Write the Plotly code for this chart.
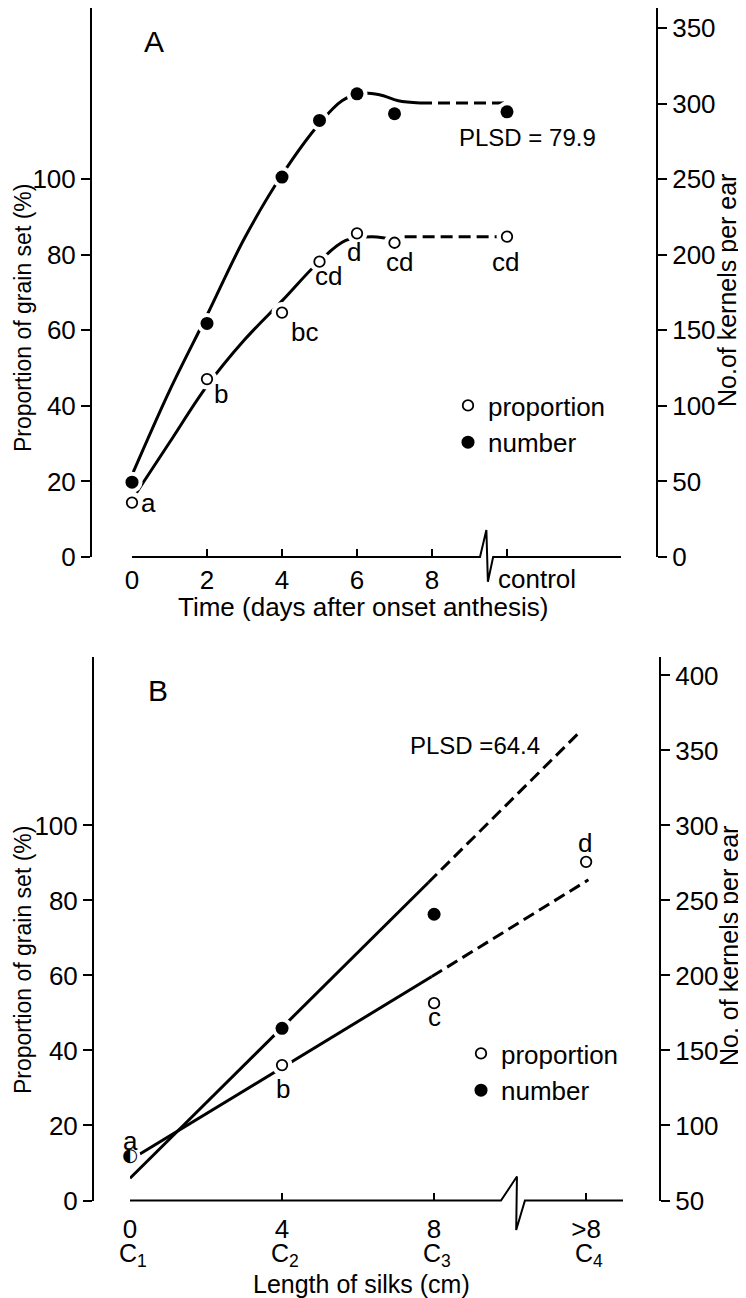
import plotly.graph_objects as go

# panel A : time after onset of anthesis (control plotted at 10)
days_a = [0, 2, 4, 5, 6, 7, 10]
prop_a = [14.4, 47.1, 64.7, 78.2, 85.7, 83.2, 84.8]
num_a = [49.5, 154.6, 251.5, 289.0, 306.6, 293.4, 294.7]
letters_a = ["a", "b", "bc", "cd", "d", "cd", "cd"]
xticks_a = [0, 2, 4, 6, 8, 10]
xticktext_a = ["0", "2", "4", "6", "8", " "]

# fitted curves panel A
fit_a_num_x = [0.03, 1.0, 2.0, 3.0, 4.0, 5.0, 5.6, 6.1, 6.6, 7.1, 7.68]
fit_a_num_y = [56, 110, 160, 211, 253, 287, 302, 307, 306, 302, 300.5]
fit_a_num_dash_x = [7.68, 10.0]
fit_a_num_dash_y = [300.5, 300.5]
fit_a_prop_x = [0.12, 1.0, 2.0, 3.0, 4.0, 5.0, 5.7, 6.4, 7.1]
fit_a_prop_y = [17, 30.3, 45.3, 57.5, 67.8, 78.3, 83.8, 84.8, 83.8]
fit_a_prop_dash_x = [7.27, 10.0]
fit_a_prop_dash_y = [84.8, 84.8]

# panel B : length of silks
silk_b = [0, 4, 8, 12]
xticktext_b = ["0", "4", "8", ">8"]
classes_b = ["C<sub>1</sub>", "C<sub>2</sub>", "C<sub>3</sub>", "C<sub>4</sub>"]
prop_b = [11.6, 36.1, 52.6, 90.3]
num_b = [79.0, 164.8, 240.8, 414.3]
letters_b = ["a", "b", "c", "d"]

fit_b_num_x = [0, 7.85]
fit_b_num_y = [64.8, 262]
fit_b_num_dash_x = [7.85, 11.8]
fit_b_num_dash_y = [262, 361.5]
fit_b_prop_x = [0.26, 7.94]
fit_b_prop_y = [12.4, 59.7]
fit_b_prop_dash_x = [7.94, 12.06]
fit_b_prop_dash_y = [59.7, 85.5]

# x-axis lines with their break mark (x in axis units, y in pixels from the axis)
break_a_x = [0, 9.28, 9.45, 9.49, 9.63, 13.04]
break_a_y = [0, 0, 27, -24.7, 0, 0]
break_b_x = [0, 9.76, 10.18, 10.16, 10.39, 12.97]
break_b_y = [0, 0, 24, -29.5, 0, 0]

# page is 746x1298, the browser keeps an 8px body margin
OFF = 8
W, H = 746 - OFF, 1298 - OFF
FONT = "Liberation Sans"
DASH = "12px,6px"


def px(x):
    return (x - OFF) / W


def py(y):
    return 1 - (y - OFF) / H


fig = go.Figure()


def line(x, y, xa, ya, dash="solid", shape="spline", width=3):
    fig.add_trace(go.Scatter(x=x, y=y, xaxis=xa, yaxis=ya, mode="lines",
                             line=dict(color="black", width=width, dash=dash, shape=shape),
                             showlegend=False, hoverinfo="skip", cliponaxis=False))


def halo(x, y, xa, ya):
    fig.add_trace(go.Scatter(x=x, y=y, xaxis=xa, yaxis=ya, mode="markers",
                             marker=dict(color="white", size=21),
                             showlegend=False, hoverinfo="skip", cliponaxis=False))


def points(x, y, xa, ya, filled, name, leg):
    if filled:
        mk = dict(color="black", size=13, symbol="circle")
    else:
        mk = dict(color="white", size=10.5, symbol="circle", line=dict(color="black", width=1.8))
    fig.add_trace(go.Scatter(x=x, y=y, xaxis=xa, yaxis=ya, mode="markers", marker=mk,
                             name=name, legend=leg, legendgroup=name + leg,
                             showlegend=True, cliponaxis=False, hoverinfo="skip"))


# --- panel A
line(fit_a_prop_x, fit_a_prop_y, "x", "y")
line(fit_a_prop_dash_x, fit_a_prop_dash_y, "x", "y", dash=DASH, shape="linear")
halo(days_a, prop_a, "x", "y")
points(days_a, prop_a, "x", "y", False, "proportion", "legend")

line(fit_a_num_x, fit_a_num_y, "x", "y2")
line(fit_a_num_dash_x, fit_a_num_dash_y, "x", "y2", dash=DASH, shape="linear")
halo(days_a, num_a, "x", "y2")
points(days_a, num_a, "x", "y2", True, "number", "legend")

# --- panel B
line(fit_b_prop_x, fit_b_prop_y, "x2", "y3", shape="linear")
line(fit_b_prop_dash_x, fit_b_prop_dash_y, "x2", "y3", dash=DASH, shape="linear")
halo(silk_b, prop_b, "x2", "y3")
points(silk_b[1:], prop_b[1:], "x2", "y3", False, "proportion", "legend2")

line(fit_b_num_x, fit_b_num_y, "x2", "y4", shape="linear")
line(fit_b_num_dash_x, fit_b_num_dash_y, "x2", "y4", dash=DASH, shape="linear")
halo(silk_b[1:], num_b[1:], "x2", "y4")
points(silk_b[1:], num_b[1:], "x2", "y4", True, "number", "legend2")

# first point of B : proportion and number coincide -> half filled symbol
fig.add_trace(go.Scatter(x=silk_b[:1], y=prop_b[:1], xaxis="x2", yaxis="y3", mode="text",
                         text=["\u25D0"], textposition="middle center",
                         textfont=dict(family="DejaVu Sans", size=18, color="black"),
                         showlegend=False, hoverinfo="skip", cliponaxis=False))

# x-axis lines with break marks, drawn in thin strips around each axis
line(break_a_x, break_a_y, "x3", "y5", shape="linear", width=2)
line(break_b_x, break_b_y, "x4", "y6", shape="linear", width=2)

# letters of significance
off_a = [(16, 0), (14, 15), (22, 19), (9, 14), (-3, 19), (5, 19), (-2, 25)]
for d, p, t, (dx, dy) in zip(days_a, prop_a, letters_a, off_a):
    fig.add_annotation(x=d, y=p, xref="x", yref="y", text=t, showarrow=False,
                       xanchor="center", yanchor="middle",
                       xshift=dx, yshift=-dy, font=dict(size=26))
off_b = [(0, -16), (1, 24), (0, 14), (-1, -19)]
for d, p, t, (dx, dy) in zip(silk_b, prop_b, letters_b, off_b):
    fig.add_annotation(x=d, y=p, xref="x2", yref="y3", text=t, showarrow=False,
                       xanchor="center", yanchor="middle",
                       xshift=dx, yshift=-dy, font=dict(size=26))

# length classes under the tick labels of B
for d, c in zip(silk_b, classes_b):
    fig.add_annotation(x=d, y=py(1255), xref="x2", yref="paper", text=c,
                       showarrow=False, xanchor="center", yanchor="middle",
                       xshift=3, font=dict(size=25))


def label(x, y, text, size=26, angle=0, xanchor="center"):
    fig.add_annotation(x=px(x), y=py(y), xref="paper", yref="paper", text=text,
                       showarrow=False, textangle=angle, xanchor=xanchor,
                       yanchor="middle", font=dict(size=size))


label(154, 42, "A", size=30)
label(158, 690, "B", size=30)
label(527, 138, "PLSD = 79.9", size=24)
label(475, 746, "PLSD =64.4", size=24)
label(23, 318, "Proportion of grain set (%)", size=23, angle=-90)
label(23, 960, "Proportion of grain set (%)", size=23, angle=-90)
label(727, 291, "No.of kernels per ear", size=25, angle=-90)
label(729, 946, "No. of kernels per ear", size=25, angle=-90)
label(363, 607, "Time (days after onset anthesis)")
label(361, 1284, "Length of silks (cm)", size=25)
fig.add_annotation(x=10, y=py(579), xref="x", yref="paper", text="control",
                   showarrow=False, xanchor="left", yanchor="middle", xshift=-11,
                   font=dict(size=26))

yax = dict(showline=True, linewidth=2, linecolor="black", ticks="outside", ticklen=9,
           tickwidth=2, tickcolor="black", showgrid=False, zeroline=False,
           anchor="free", automargin=False, tickfont=dict(size=26))
xax = dict(showline=False, ticks="inside", ticklen=8, tickwidth=2, tickcolor="black",
           showgrid=False, zeroline=False, automargin=False, tickfont=dict(size=26),
           ticklabelstandoff=5)
hidden = dict(visible=False, showgrid=False, zeroline=False, automargin=False)

fig.update_layout(
    template="none",
    width=W, height=H,
    margin=dict(l=0, r=0, t=0, b=0, autoexpand=False),
    paper_bgcolor="white", plot_bgcolor="rgba(0,0,0,0)",
    font=dict(family=FONT, color="black", size=26),
    xaxis=dict(xax, domain=[px(132), px(621)], range=[0, 13.04], anchor="y",
               tickvals=xticks_a, ticktext=xticktext_a),
    yaxis=dict(yax, domain=[py(557), py(8)], range=[0, 145.35], position=px(91),
               tickvals=[0, 20, 40, 60, 80, 100]),
    yaxis2=dict(yax, overlaying="y", side="right", range=[0, 363.4], position=px(657),
                tickvals=[0, 50, 100, 150, 200, 250, 300, 350]),
    xaxis2=dict(xax, domain=[px(130), px(623)], range=[0, 12.97], anchor="y3",
                tickvals=silk_b, ticktext=xticktext_b, ticklabelstandoff=10),
    yaxis3=dict(yax, domain=[py(1200.5), py(657)], range=[0, 144.9], position=px(93),
                tickvals=[0, 20, 40, 60, 80, 100]),
    yaxis4=dict(yax, overlaying="y3", side="right", range=[50, 412.3], position=px(660),
                tickvals=[50, 100, 150, 200, 250, 300, 350, 400]),
    xaxis3=dict(hidden, domain=[px(132), px(621)], range=[0, 13.04], anchor="y5"),
    yaxis5=dict(hidden, domain=[py(597), py(517)], range=[-40, 40], anchor="x3"),
    xaxis4=dict(hidden, domain=[px(130), px(623)], range=[0, 12.97], anchor="y6"),
    yaxis6=dict(hidden, domain=[py(1240.5), py(1160.5)], range=[-40, 40], anchor="x4"),
    legend=dict(x=px(448), y=py(382), xanchor="left", yanchor="top",
                bgcolor="rgba(0,0,0,0)", font=dict(size=26), tracegroupgap=0),
    legend2=dict(x=px(461), y=py(1030), xanchor="left", yanchor="top",
                 bgcolor="rgba(0,0,0,0)", font=dict(size=26), tracegroupgap=0),
)

fig.write_html("out.html")
